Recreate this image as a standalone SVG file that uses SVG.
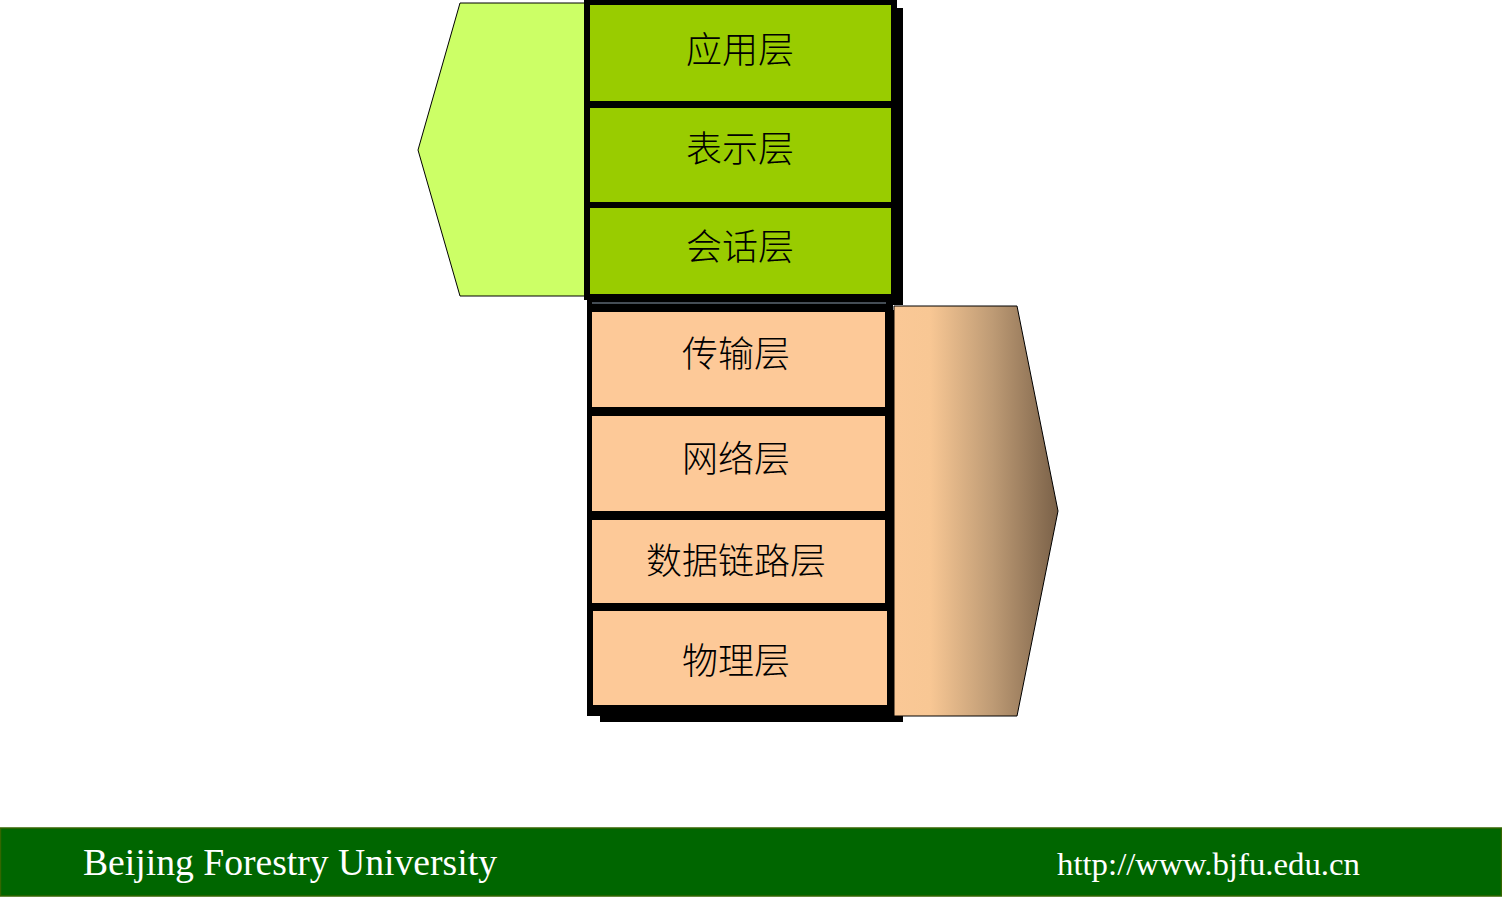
<svg xmlns="http://www.w3.org/2000/svg" width="1502" height="908" viewBox="0 0 1502 908">
<defs>
<linearGradient id="brown" x1="0" y1="0" x2="1" y2="0">
<stop offset="0" stop-color="#FAC896"/>
<stop offset="0.22" stop-color="#F8C794"/>
<stop offset="0.6" stop-color="#BE9B75"/>
<stop offset="1" stop-color="#7A6148"/>
</linearGradient>
<style>
.lbl{font-family:"Noto Sans CJK SC","Noto Sans CJK JP",sans-serif;font-size:36px;font-weight:300;fill:#000;text-anchor:middle}
.g{fill:#99CC00}
.p{fill:#FDC998}
.blk{fill:#000}
.foot{font-family:"Liberation Serif",serif;fill:#fff}
</style>
</defs>
<rect width="1502" height="908" fill="#fff"/>
<g id="upper-arrow">
<polygon points="460,3 585,3 585,296 460,296 418,150" fill="#CCFF66" stroke="#000" stroke-width="1"/>
</g>
<g id="upper-stack">
<rect class="blk" x="590" y="8" width="313" height="297"/>
<rect class="blk" x="584" y="0" width="313" height="300"/>
</g>
<g id="lower-stack">
<rect class="blk" x="600" y="310" width="303" height="412"/>
<rect class="blk" x="587" y="300" width="306" height="416"/>
<line x1="592" y1="303" x2="886" y2="303" stroke="#8899AA" stroke-width="1"/>
</g>
<g id="lower-arrow">
<polygon points="894,306 1017,306 1058,511 1017,716 894,716" fill="url(#brown)" stroke="#000" stroke-width="1"/>
</g>
<g id="app">
<rect class="g" x="590" y="5" width="301" height="96"/>
<text class="lbl" x="740" y="63">应用层</text>
</g>
<g id="pres">
<rect class="g" x="590" y="108" width="301" height="94"/>
<text class="lbl" x="740" y="162">表示层</text>
</g>
<g id="sess">
<rect class="g" x="590" y="208" width="301" height="86"/>
<text class="lbl" x="740" y="260">会话层</text>
</g>
<g id="trans">
<rect class="p" x="592" y="312" width="293" height="95"/>
<text class="lbl" x="736" y="367">传输层</text>
</g>
<g id="net">
<rect class="p" x="592" y="416" width="293" height="95"/>
<text class="lbl" x="736" y="472">网络层</text>
</g>
<g id="link">
<rect class="p" x="592" y="520" width="293" height="83"/>
<text class="lbl" x="736" y="574">数据链路层</text>
</g>
<g id="phys">
<rect class="p" x="593" y="611" width="294" height="94"/>
<text class="lbl" x="736" y="674">物理层</text>
</g>
<g id="footer">
<rect x="0.5" y="828" width="1501" height="68" fill="#006600" stroke="#336600" stroke-width="1.5"/>
<text class="foot" x="83" y="875" font-size="37" textLength="414" lengthAdjust="spacingAndGlyphs">Beijing Forestry University</text>
<text class="foot" x="1057" y="875" font-size="32" textLength="303" lengthAdjust="spacingAndGlyphs">http://www.bjfu.edu.cn</text>
</g>
</svg>
